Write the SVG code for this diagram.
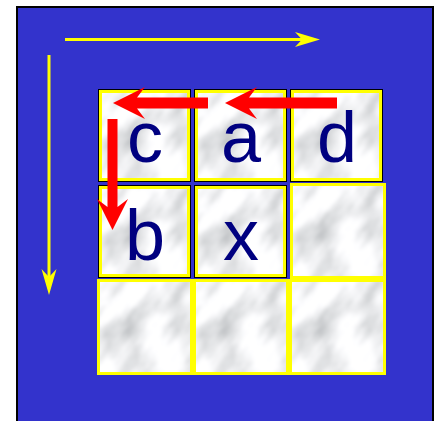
<svg xmlns="http://www.w3.org/2000/svg" xmlns:xlink="http://www.w3.org/1999/xlink" width="443" height="421" viewBox="0 0 443 421">
  <style>
    .yb { fill: #FFFF00; }
    .ol { fill: #000000; }
    .lbl { font-family: "Liberation Sans", Arial, sans-serif; font-size: 72px; fill: #000080; text-anchor: middle; }
    .red { fill: #FF0000; }
    .yl { stroke: #FFFF00; stroke-width: 3; fill: none; }
    .yh { fill: #FFFF00; }
  </style>
  <defs>
    <filter id="marbleF" filterUnits="userSpaceOnUse" x="-120" y="-120" width="340" height="340">
      <feTurbulence type="fractalNoise" baseFrequency="0.02 0.045" numOctaves="4" seed="3"/>
      <feColorMatrix type="matrix" values="-0.95 0 0 0 1.38  -0.92 0 0 0 1.37  -0.92 0 0 0 1.385  0 0 0 0 1"/>
      <feGaussianBlur stdDeviation="1.4"/>
    </filter>
    <g id="tex">
      <rect x="0" y="0" width="90" height="90" fill="#E4E6E8"/>
      <rect transform="rotate(-55 45 45)" x="-60" y="-60" width="210" height="210" filter="url(#marbleF)"/>
    </g>
  </defs>

  <rect x="17" y="7" width="416" height="430" fill="#3333CC" stroke="#000000" stroke-width="2"/>

  <!-- empty cells -->
  <g id="cell-r2c3">
    <rect class="yb" x="290" y="183" width="96" height="96"/>
    <svg x="293" y="186" width="90" height="90"><use href="#tex"/></svg>
  </g>
  <g id="cell-r3c1">
    <rect class="yb" x="97" y="279" width="96" height="96"/>
    <svg x="100" y="282" width="90" height="90"><use href="#tex"/></svg>
  </g>
  <g id="cell-r3c2">
    <rect class="yb" x="193" y="279" width="97" height="96"/>
    <svg x="196" y="282" width="90" height="90"><use href="#tex"/></svg>
  </g>
  <g id="cell-r3c3">
    <rect class="yb" x="289" y="279" width="97" height="96"/>
    <svg x="292" y="282" width="91" height="90"><use href="#tex"/></svg>
  </g>

  <!-- letter cells -->
  <g id="node-c">
    <rect class="ol" x="98" y="89" width="93" height="93"/>
    <rect class="yb" x="99" y="90" width="91" height="91"/>
    <svg x="102" y="93" width="85" height="85"><use href="#tex"/></svg>
    <text class="lbl" x="145" y="162">c</text>
  </g>
  <g id="node-a">
    <rect class="ol" x="194" y="89" width="93" height="93"/>
    <rect class="yb" x="195" y="90" width="91" height="91"/>
    <svg x="198" y="93" width="85" height="85"><use href="#tex"/></svg>
    <text class="lbl" x="241" y="162">a</text>
  </g>
  <g id="node-d">
    <rect class="ol" x="290" y="89" width="93" height="93"/>
    <rect class="yb" x="291" y="90" width="91" height="91"/>
    <svg x="294" y="93" width="85" height="85"><use href="#tex"/></svg>
    <text class="lbl" x="337" y="162">d</text>
  </g>
  <g id="node-b">
    <rect class="ol" x="98" y="185" width="93" height="93"/>
    <rect class="yb" x="99" y="186" width="91" height="91"/>
    <svg x="102" y="189" width="85" height="85"><use href="#tex"/></svg>
    <text class="lbl" x="145" y="260">b</text>
  </g>
  <g id="node-x">
    <rect class="ol" x="194" y="185" width="93" height="93"/>
    <rect class="yb" x="195" y="186" width="91" height="91"/>
    <svg x="198" y="189" width="85" height="85"><use href="#tex"/></svg>
    <text class="lbl" x="241" y="260">x</text>
  </g>

  <g id="connectors">
    <!-- yellow axes -->
    <line class="yl" x1="65" y1="39.5" x2="304" y2="39.5"/>
    <polygon class="yh" points="320,39.5 295,32 302,39.5 295,47"/>
    <line class="yl" x1="49" y1="55" x2="49" y2="279"/>
    <polygon class="yh" points="49,295 41.5,269 49,277 56.5,269"/>
    <!-- red arrows -->
    <polygon class="red" points="337,97.5 249,97.5 257,87 225,103 257,119 249,108.5 337,108.5"/>
    <polygon class="red" points="208,97.5 137,97.5 145,87 113,103 145,119 137,108.5 208,108.5"/>
    <polygon class="red" points="107.5,119 107.5,207 97,199 112.5,230 128,199 117.5,207 117.5,119"/>
  </g>
</svg>
